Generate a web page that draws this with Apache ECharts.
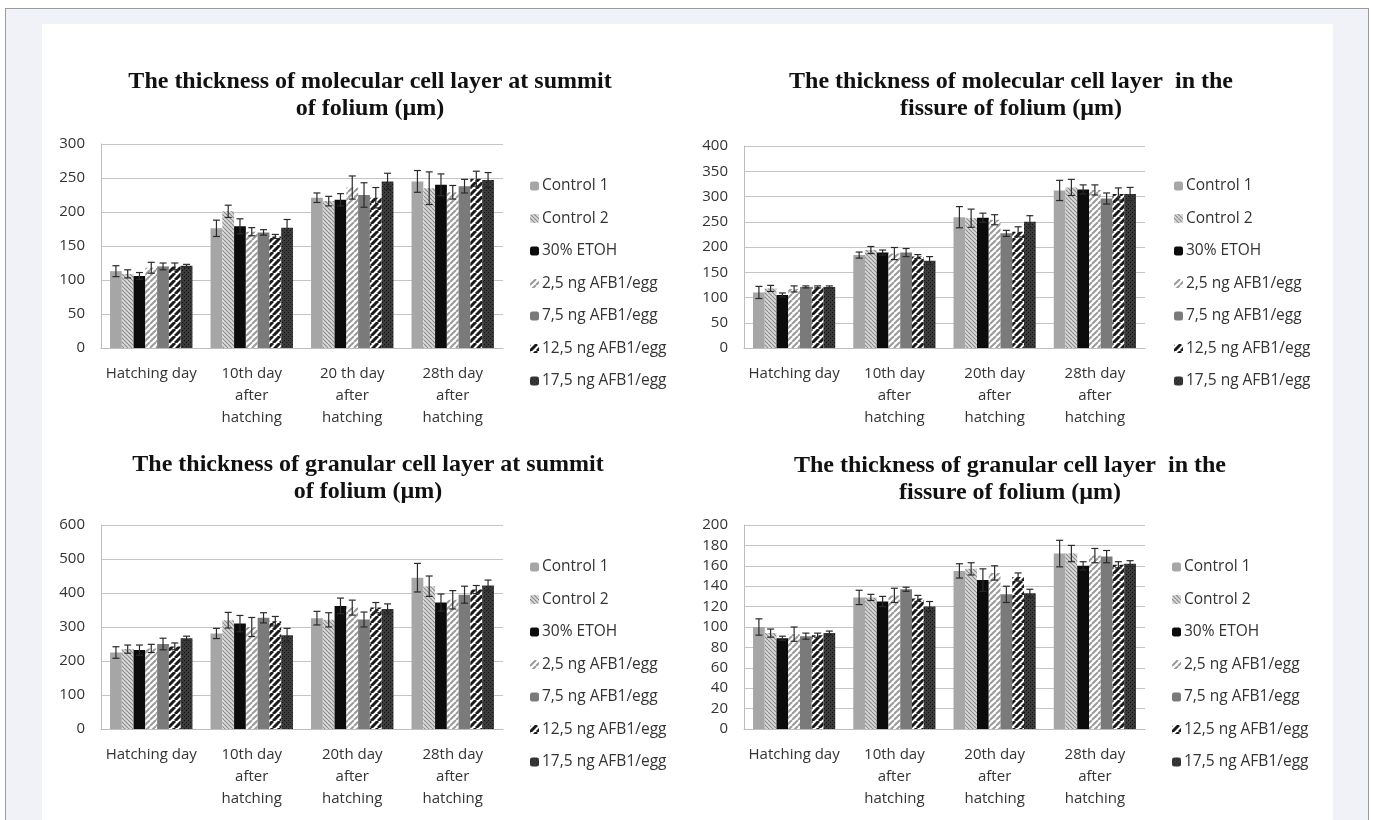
<!DOCTYPE html>
<html>
<head>
<meta charset="utf-8">
<script src="https://cdn.jsdelivr.net/npm/echarts@6/dist/echarts.min.js"></script>
<style>
html,body{margin:0;padding:0;width:1373px;height:820px;overflow:hidden;background:#ffffff;}
#frame{position:absolute;left:5px;top:8px;width:1362px;height:830px;border:1px solid #9a9a9a;background:#f1f2f7;}
#panel{position:absolute;left:42px;top:24px;width:1291px;height:800px;background:#ffffff;}
#chart{position:absolute;left:0;top:0;width:1373px;height:820px;}
</style>
</head>
<body>
<div id="frame"></div>
<div id="panel"></div>
<div id="chart"></div>
<script>
// ---------------- DATA ----------------
const seriesNames = ['Control 1','Control 2','30% ETOH','2,5 ng AFB1/egg','7,5 ng AFB1/egg','12,5 ng AFB1/egg','17,5 ng AFB1/egg'];
const catsA = ['Hatching day','10th day\nafter\nhatching','20 th day\nafter\nhatching','28th day\nafter\nhatching'];
const catsB = ['Hatching day','10th day\nafter\nhatching','20th day\nafter\nhatching','28th day\nafter\nhatching'];

const titleMolSummit = 'The thickness of molecular cell layer at summit\nof folium (µm)';
const titleMolFissure = 'The thickness of molecular cell layer  in the\nfissure of folium (µm)';
const titleGranSummit = 'The thickness of granular cell layer at summit\nof folium (µm)';
const titleGranFissure = 'The thickness of granular cell layer  in the\nfissure of folium (µm)';

// each row = one series (order as seriesNames), columns = categories
const molSummit = [
  [113, 176, 221, 245],
  [109, 201, 216, 235],
  [106, 179, 218, 240],
  [118, 171, 236, 229],
  [120, 170, 225, 238],
  [120, 164, 221, 249],
  [121, 177, 245, 247]
];
const molSummitErr = [
  [8, 12, 7, 16],
  [6, 9, 7, 24],
  [5, 11, 9, 16],
  [8, 6, 17, 10],
  [5, 4, 18, 10],
  [5, 3, 15, 11],
  [2, 12, 12, 11]
];
const molFissure = [
  [110, 184, 259, 312],
  [118, 194, 257, 318],
  [105, 189, 258, 314],
  [117, 187, 254, 313],
  [121, 189, 227, 296],
  [121, 181, 230, 305],
  [121, 173, 250, 305]
];
const molFissureErr = [
  [12, 6, 21, 20],
  [6, 7, 18, 16],
  [4, 5, 9, 9],
  [6, 12, 10, 10],
  [2, 8, 6, 11],
  [2, 4, 10, 12],
  [2, 8, 12, 13]
];
const granSummit = [
  [225, 281, 326, 445],
  [235, 320, 321, 420],
  [232, 310, 362, 372],
  [237, 300, 357, 380],
  [250, 327, 322, 395],
  [243, 317, 357, 410],
  [267, 276, 353, 422]
];
const granSummitErr = [
  [17, 15, 20, 42],
  [12, 23, 21, 30],
  [15, 24, 23, 25],
  [12, 28, 22, 27],
  [17, 15, 22, 25],
  [10, 14, 15, 12],
  [6, 20, 15, 16]
];
const granFissure = [
  [100, 129, 155, 172],
  [94, 129, 157, 172],
  [89, 125, 146, 160],
  [93, 131, 153, 170],
  [91, 137, 132, 169],
  [92, 128, 149, 161],
  [94, 120, 133, 162]
];
const granFissureErr = [
  [8, 7, 7, 13],
  [4, 3, 6, 8],
  [2, 5, 11, 4],
  [7, 7, 7, 7],
  [3, 2, 8, 6],
  [2, 3, 4, 3],
  [2, 5, 4, 3]
];
const yMaxs = [300, 400, 600, 200];
const yIntervals = [50, 50, 100, 20];

// ---------------- PATTERNS ----------------
function diag(size, bg, fg, lw, dir) {
  const c = document.createElement('canvas');
  c.width = size; c.height = size;
  const g = c.getContext('2d');
  g.fillStyle = bg; g.fillRect(0, 0, size, size);
  g.strokeStyle = fg; g.lineWidth = lw;
  g.beginPath();
  for (let k = -1; k <= 1; k++) {
    if (dir > 0) { g.moveTo(k * size, size); g.lineTo(k * size + size, 0); }
    else { g.moveTo(k * size, 0); g.lineTo(k * size + size, size); }
  }
  g.stroke();
  return c;
}
function dots(size, bg, fg) {
  const c = document.createElement('canvas');
  c.width = size; c.height = size;
  const g = c.getContext('2d');
  g.fillStyle = bg; g.fillRect(0, 0, size, size);
  g.fillStyle = fg;
  g.fillRect(0, 0, 1, 1);
  g.fillRect(2, 2, 1, 1);
  return c;
}
const fills = [
  '#a6a6a6',
  { image: diag(4, '#dadada', '#8a8a8a', 1.1, -1), repeat: 'repeat' },
  '#0c0c0c',
  { image: diag(6, '#ffffff', '#9a9a9a', 2, 1), repeat: 'repeat' },
  '#7a7a7a',
  { image: diag(7, '#ffffff', '#1a1a1a', 3, 1), repeat: 'repeat' },
  { image: dots(4, '#3a3a3a', '#111111'), repeat: 'repeat' }
];

// ---------------- LAYOUT ----------------
const grids = [
  { left: 101, top: 144, width: 402, height: 204 },
  { left: 744, top: 146, width: 401, height: 202 },
  { left: 101, top: 525, width: 402, height: 204 },
  { left: 744, top: 525, width: 401, height: 204 }
];
const titles = [
  { text: titleMolSummit, left: 370, top: 68 },
  { text: titleMolFissure, left: 1011, top: 68 },
  { text: titleGranSummit, left: 368, top: 451 },
  { text: titleGranFissure, left: 1010, top: 452 }
];
const legendPos = [
  { left: 530, top: 178 },
  { left: 1174, top: 178 },
  { left: 530, top: 559 },
  { left: 1172, top: 559 }
];
const datasets = [molSummit, molFissure, granSummit, granFissure];
const errsets = [molSummitErr, molFissureErr, granSummitErr, granFissureErr];
const catsets = [catsA, catsB, catsB, catsB];

const labelFont = '"Open Sans", Lato, sans-serif';
const GAP = 0.18;

function errRender(params, api) {
  const cat = api.value(0), val = api.value(1), err = api.value(2), s = api.value(3);
  const band = api.size([1, 0])[0];
  const bw = band * (1 - GAP) / 7;
  const cx = api.coord([cat, val])[0] + (s - 3) * bw;
  const yHi = api.coord([cat, val + err])[1];
  const yLo = api.coord([cat, val - err])[1];
  const hw = 3.5;
  const style = { stroke: '#2a2a2a', lineWidth: 1.2 };
  return {
    type: 'group',
    children: [
      { type: 'line', shape: { x1: cx, y1: yHi, x2: cx, y2: yLo }, style },
      { type: 'line', shape: { x1: cx - hw, y1: yHi, x2: cx + hw, y2: yHi }, style },
      { type: 'line', shape: { x1: cx - hw, y1: yLo, x2: cx + hw, y2: yLo }, style }
    ]
  };
}

const option = {
  animation: false,
  backgroundColor: 'transparent',
  title: titles.map(t => ({
    text: t.text, left: t.left, top: t.top, textAlign: 'center', padding: 0,
    textStyle: { fontFamily: '"Liberation Serif", "Times New Roman", serif', fontWeight: 'bold', fontSize: 24, lineHeight: 27, color: '#111' }
  })),
  legend: legendPos.map(p => ({
    data: seriesNames, left: p.left, top: p.top, orient: 'vertical', padding: 0,
    itemWidth: 9, itemHeight: 9, itemGap: 16.5, selectedMode: false,
    textStyle: { fontFamily: labelFont, fontSize: 15.5, color: '#333333', lineHeight: 16, padding: [0, 0, 0, -2] }
  })),
  grid: grids,
  xAxis: grids.map((g, i) => ({
    type: 'category', gridIndex: i, data: catsets[i],
    axisLine: { lineStyle: { color: '#bdbdbd', width: 1 } },
    axisTick: { show: false },
    axisLabel: { fontFamily: labelFont, fontSize: 15, color: '#333333', lineHeight: 22, margin: 15, interval: 0 }
  })),
  yAxis: grids.map((g, i) => ({
    type: 'value', gridIndex: i, min: 0, max: yMaxs[i], interval: yIntervals[i],
    axisLine: { show: true, lineStyle: { color: '#bdbdbd', width: 1 } },
    axisTick: { show: false },
    splitLine: { lineStyle: { color: '#c4c4c4', width: 1 } },
    axisLabel: { fontFamily: labelFont, fontSize: 15, color: '#333333', margin: 16 }
  })),
  series: []
};

for (let gi = 0; gi < 4; gi++) {
  for (let s = 0; s < 7; s++) {
    option.series.push({
      type: 'bar', name: seriesNames[s], xAxisIndex: gi, yAxisIndex: gi,
      data: datasets[gi][s], barGap: '0%', barCategoryGap: (GAP * 100) + '%',
      itemStyle: { color: fills[s] }
    });
  }
  const errData = [];
  for (let s = 0; s < 7; s++) {
    for (let c = 0; c < 4; c++) errData.push([c, datasets[gi][s][c], errsets[gi][s][c], s]);
  }
  option.series.push({
    type: 'custom', name: 'err' + gi, xAxisIndex: gi, yAxisIndex: gi,
    renderItem: errRender, data: errData, z: 5,
    encode: { x: 0, y: 1 }
  });
}

const chart = echarts.init(document.getElementById('chart'), null, { renderer: 'canvas' });
chart.setOption(option);
</script>
</body>
</html>
